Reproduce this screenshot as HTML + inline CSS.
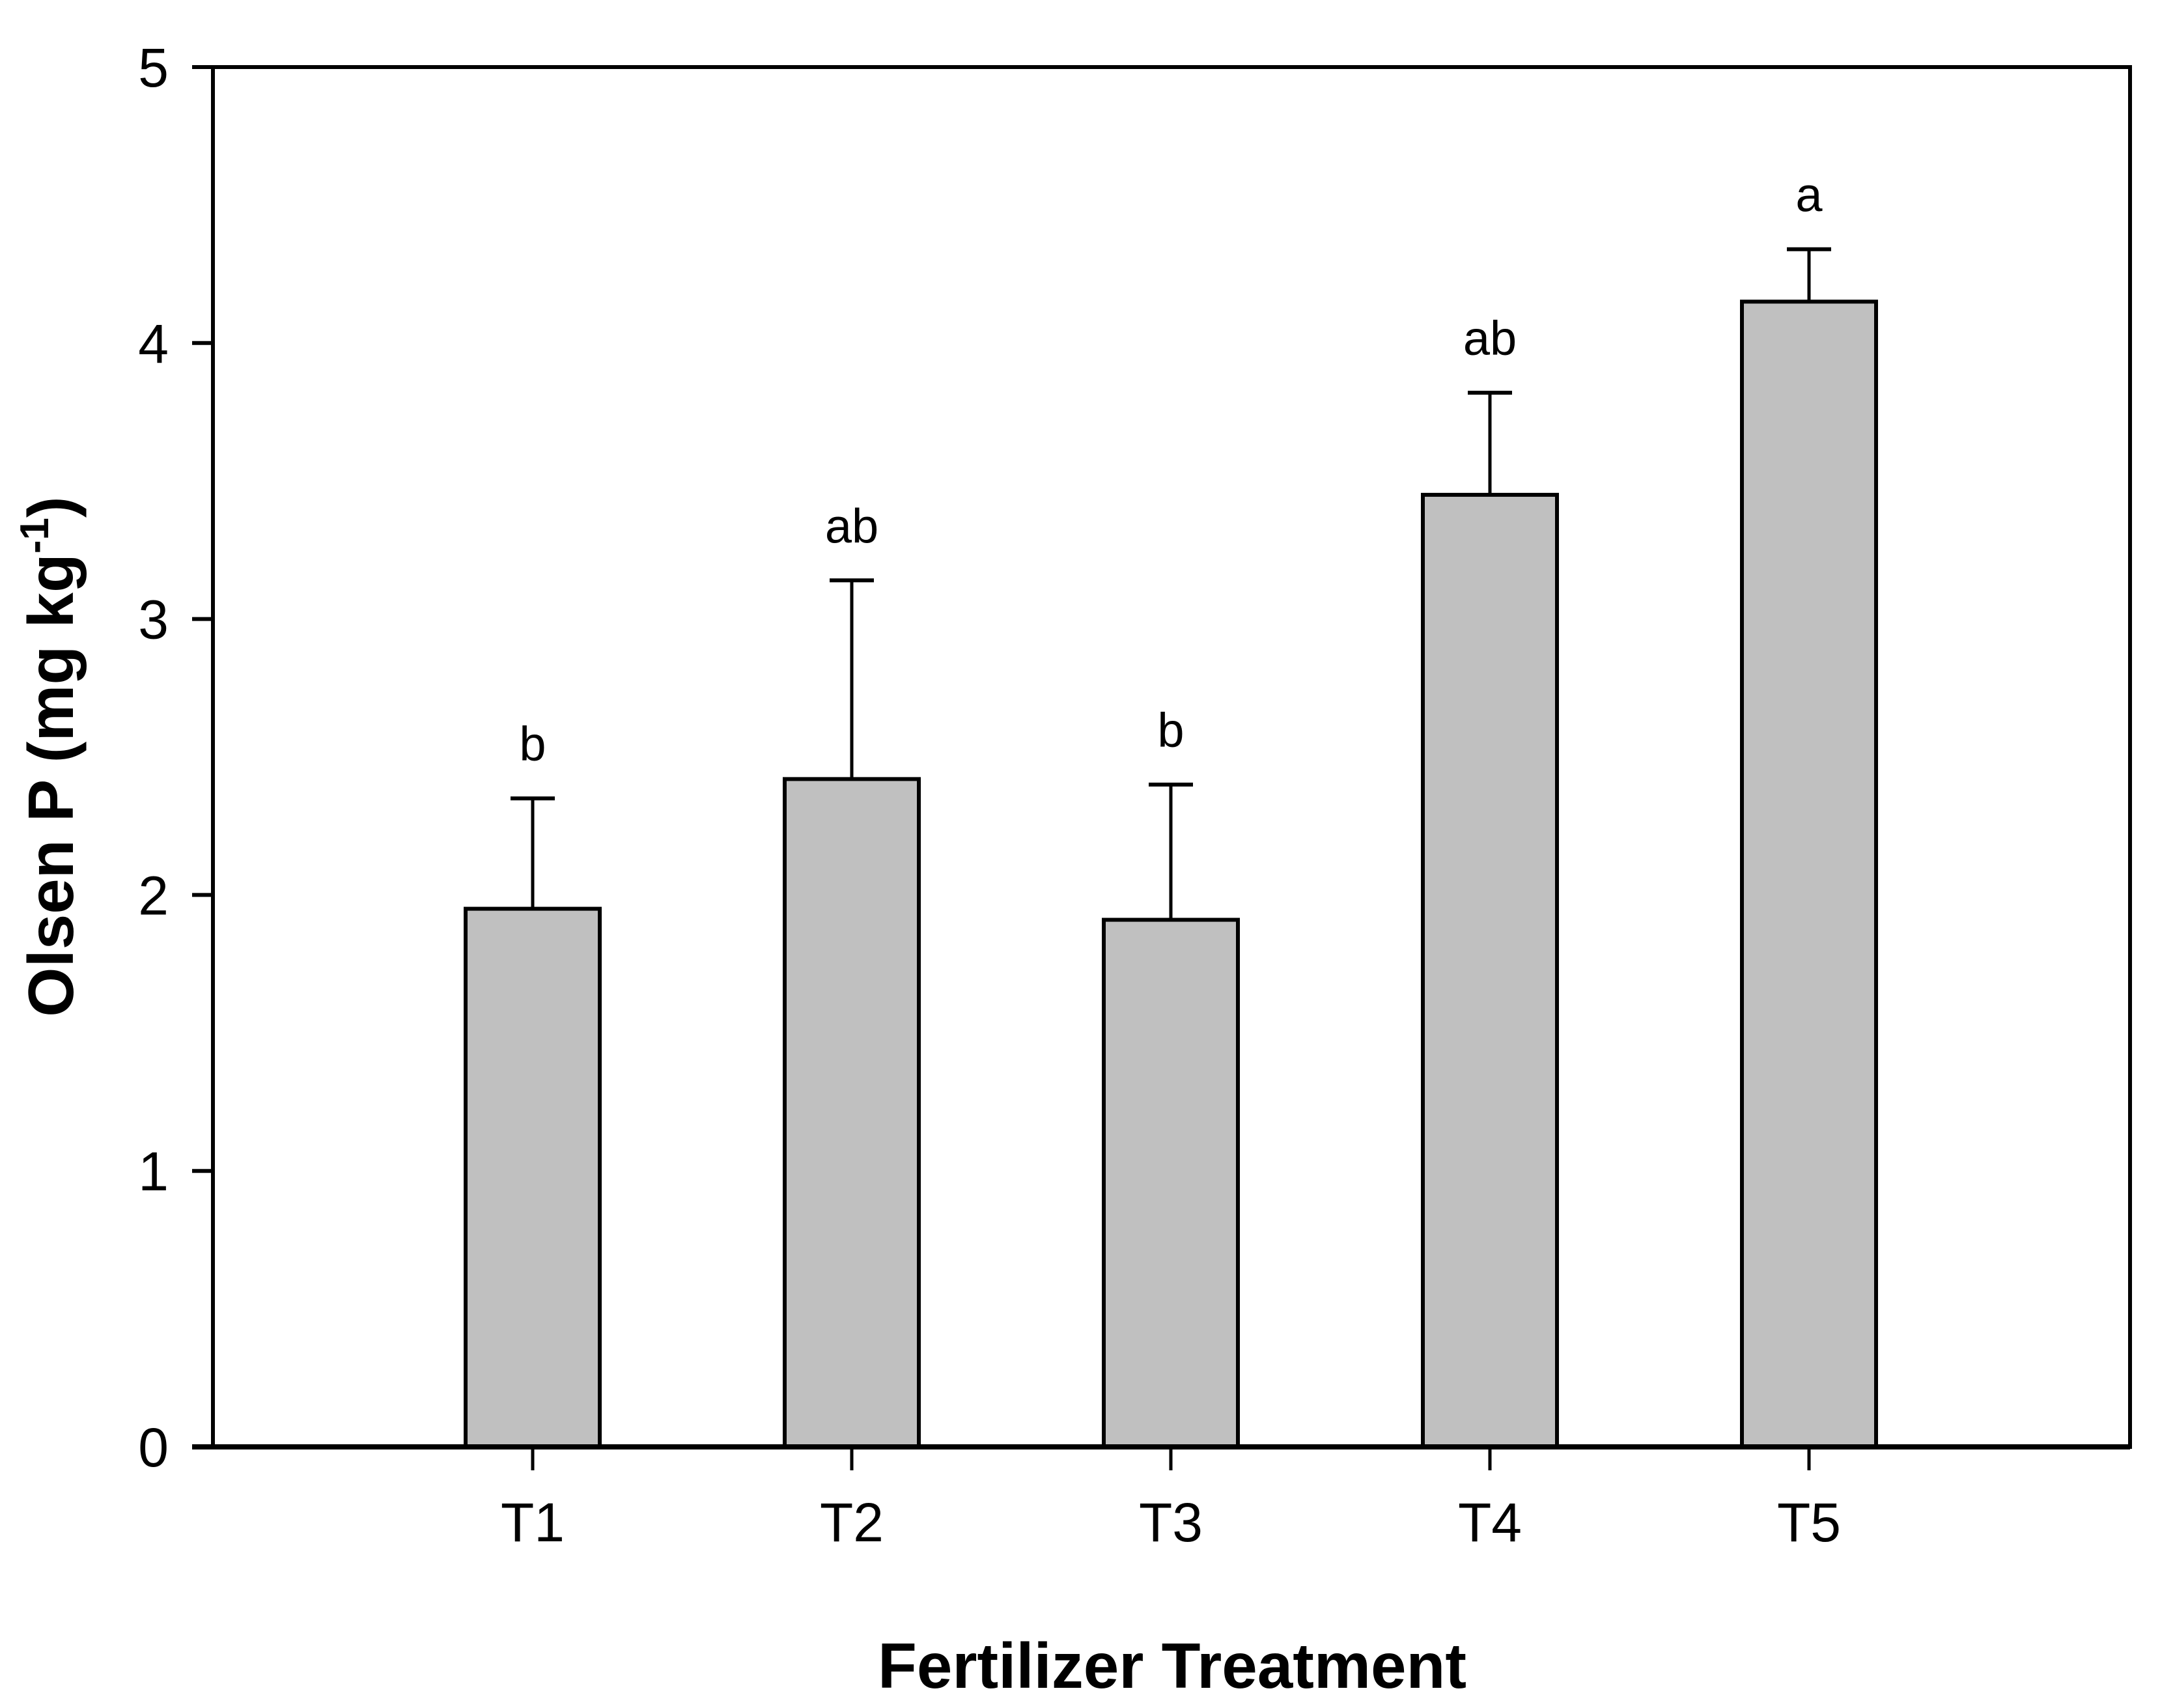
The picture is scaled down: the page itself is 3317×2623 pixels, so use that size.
<!DOCTYPE html>
<html><head><meta charset="utf-8"><style>
html,body{margin:0;padding:0;background:#fff;}
svg{display:block;}
text{font-family:"Liberation Sans",Arial,sans-serif;fill:#000;}
</style></head><body>
<svg id="chart" width="3317" height="2623" viewBox="0 0 3317 2623" xmlns="http://www.w3.org/2000/svg">
<rect x="0" y="0" width="3317" height="2623" fill="#fff"/>
<g id="plot"></g>
<text transform="translate(112,1162) rotate(-90)" text-anchor="middle" font-size="98" font-weight="bold">Olsen P (mg kg<tspan font-size="62" dy="-38">-1</tspan><tspan dy="38">)</tspan></text>
<text x="1800" y="2592" text-anchor="middle" font-size="98" font-weight="bold">Fertilizer Treatment</text>
</svg>
<script>
const categories = ["T1","T2","T3","T4","T5"];
const means = [1.95, 2.42, 1.91, 3.45, 4.15];
const errUpper = [2.35, 3.14, 2.40, 3.82, 4.34];
const letters = ["b","ab","b","ab","a"];
const yTicks = [0,1,2,3,4,5];

const NS = "http://www.w3.org/2000/svg";
const L = 327, R = 3271, T = 103, B = 2222;
const yMin = 0, yMax = 5;
function y(v){ return B - (v - yMin) / (yMax - yMin) * (B - T); }
const firstX = 818, stepX = 490;
function x(i){ return firstX + i * stepX; }
const barW = 206, capW = 68;
const g = document.getElementById('plot');
function mk(tag, attrs){ const e = document.createElementNS(NS, tag); for (const k in attrs) e.setAttribute(k, attrs[k]); g.appendChild(e); return e; }

categories.forEach((c, i) => {
  const cx = x(i);
  const eb = mk('line', {x1:cx, x2:cx, y1:y(errUpper[i]), y2:y(means[i]), stroke:'#000', 'stroke-width':5});
  
  
  const cap = mk('line', {x1:cx-capW/2, x2:cx+capW/2, y1:y(errUpper[i]), y2:y(errUpper[i]), stroke:'#000', 'stroke-width':6});
  
  
  const bar = mk('rect', {x:cx-barW/2, y:y(means[i]), width:barW, height:y(0)-y(means[i]), fill:'#c0c0c0', stroke:'#000', 'stroke-width':6});
  
  
  const lt = mk('text', {x:cx, y:y(errUpper[i]) - 58, 'text-anchor':'middle', 'font-size':74});
  lt.textContent = letters[i];
  
  
  const tk = mk('line', {x1:cx, x2:cx, y1:B, y2:B+36, stroke:'#000', 'stroke-width':5});
  
  
  const tl = mk('text', {x:cx, y:B+145, 'text-anchor':'middle', 'font-size':84});
  tl.textContent = c;
  
  
});

yTicks.forEach(v => {
  const tk = mk('line', {x1:L-32, x2:L, y1:y(v), y2:y(v), stroke:'#000', 'stroke-width':6});
  
  
  const tl = mk('text', {x:L-68, y:y(v)+30, 'text-anchor':'end', 'font-size':84});
  tl.textContent = v;
  
  
});

const frame = mk('rect', {x:L, y:T, width:R-L, height:B-T, fill:'none', stroke:'#000', 'stroke-width':6});


const xaxis = mk('line', {x1:L-32, x2:R, y1:B, y2:B, stroke:'#000', 'stroke-width':8});


</script>
</body></html>
